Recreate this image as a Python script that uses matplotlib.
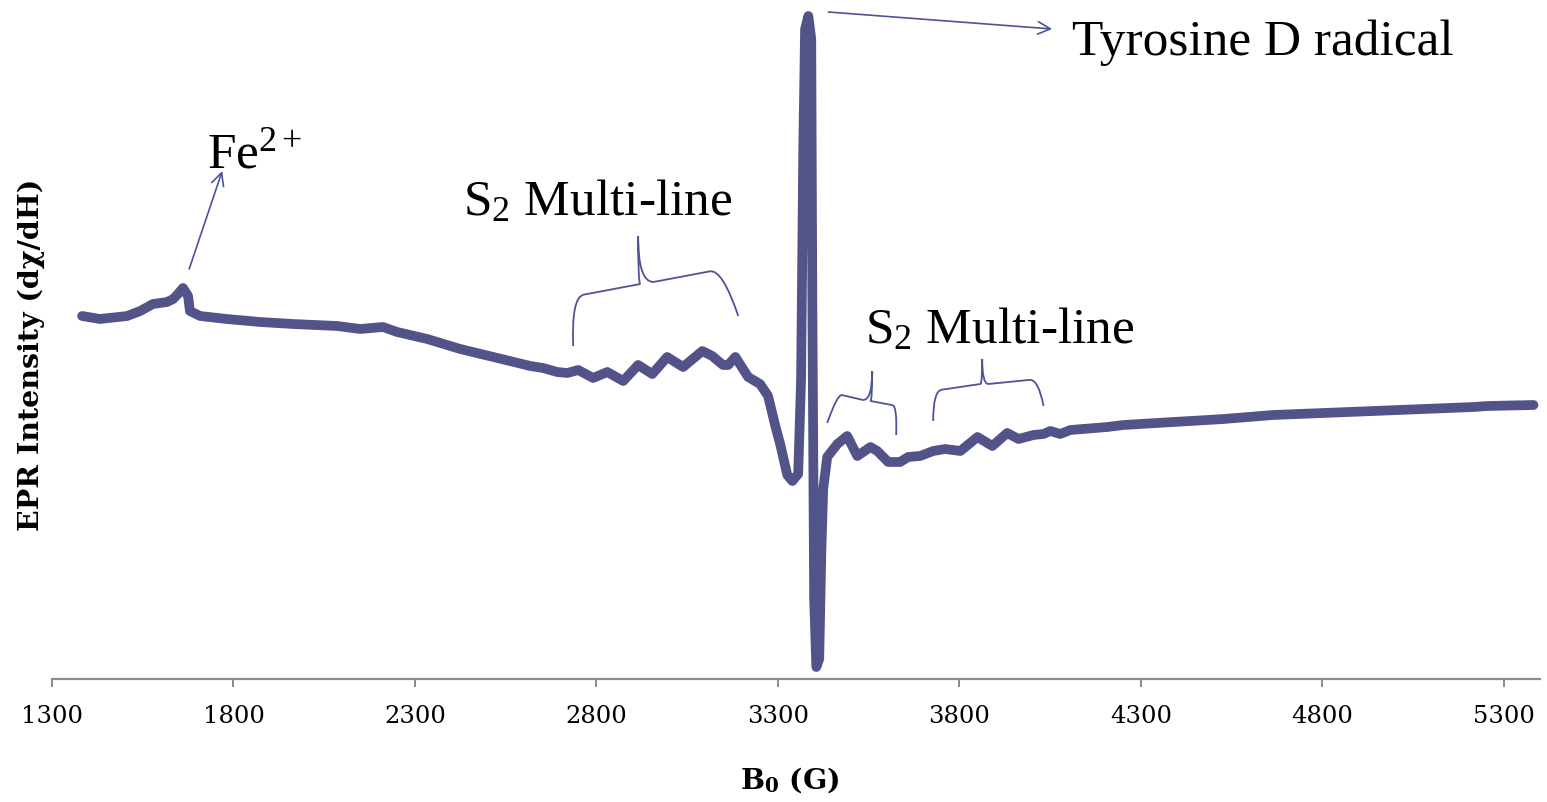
import matplotlib
matplotlib.use('Agg')
import matplotlib.pyplot as plt
from matplotlib.path import Path
from matplotlib.patches import PathPatch

# ---------------- data ----------------
field_G = [1383, 1432, 1507, 1543, 1578, 1617, 1634, 1647, 1661, 1675, 1680, 1708,
           1782, 1873, 1964, 2086, 2149, 2212, 2251, 2334, 2425, 2516, 2618, 2653,
           2692, 2720, 2750, 2791, 2830, 2874, 2915, 2954, 2995, 3039, 3092, 3119,
           3149, 3163, 3183, 3218, 3251, 3273, 3293, 3307, 3326, 3340, 3356, 3364,
           3370, 3375, 3384, 3392, 3395, 3400, 3406, 3414, 3420, 3425, 3436, 3464,
           3491, 3519, 3555, 3574, 3604, 3637, 3659, 3692, 3728, 3761, 3803, 3850,
           3891, 3932, 3963, 4004, 4032, 4051, 4078, 4106, 4208, 4252, 4390, 4437,
           4528, 4665, 4803, 4941, 5079, 5217, 5255, 5382]
intensity = [363, 360, 363, 368, 375, 377, 380, 385, 391, 383, 368, 363,
             360, 357, 355, 353, 350, 352, 347, 340, 330, 322, 313, 311,
             307, 306, 309, 301, 307, 298, 314, 305, 322, 312, 328, 323,
             314, 314, 322, 302, 295, 283, 253, 234, 204, 198, 205, 300,
             530, 650, 663, 640, 380, 80, 12, 20, 130, 190, 222, 235,
             243, 223, 232, 228, 217, 217, 222, 223, 228, 230, 228, 242,
             233, 246, 240, 244, 245, 248, 245, 249, 252, 254, 257, 258,
             260, 264, 266, 268, 270, 272, 273, 274]
x_ticks = [1300, 1800, 2300, 2800, 3300, 3800, 4300, 4800, 5300]
x_tick_labels = [str(t) for t in x_ticks]

x_label = r'B$_\mathbf{0}$ (G)'
y_label = 'EPR Intensity (dχ/dH)'

# annotation texts
fe_label = r'Fe$^{2+}$'
tyr_label = 'Tyrosine D radical'
s2_label = r'S$_2$ Multi-line'

LINE = '#525489'
ANN = '#4f5494'

plt.rcParams['mathtext.fontset'] = 'custom'
plt.rcParams['mathtext.rm'] = 'Liberation Serif'
plt.rcParams['mathtext.it'] = 'Liberation Serif:italic'
plt.rcParams['mathtext.bf'] = 'DejaVu Serif:bold'

fig = plt.figure(figsize=(15.47, 8.03), dpi=100)
ax = fig.add_axes([52 / 1547, 123 / 803, 1488 / 1547, 680 / 803])
ax.plot(field_G, intensity, color=LINE, lw=7.0, solid_joinstyle='round',
        solid_capstyle='round', clip_on=False, zorder=3)
ax.set_xlim(1300, 5400)
ax.set_ylim(0, 680)
ax.set_xticks(x_ticks)
ax.set_xticklabels(x_tick_labels, fontfamily='DejaVu Serif', fontsize=17.5)
ax.set_yticks([])
for s in ['left', 'right', 'top']:
    ax.spines[s].set_visible(False)
ax.spines['bottom'].set_color('#8a8a8a')
ax.spines['bottom'].set_linewidth(1.6)
ax.tick_params(axis='x', direction='out', length=6, width=1.4, color='#8a8a8a', pad=12)

ax.set_xlabel(x_label, fontfamily='DejaVu Serif', fontweight='bold', fontsize=20.5)
ax.xaxis.set_label_coords(0.496, -0.125)
ax.set_ylabel(y_label, fontfamily='DejaVu Serif', fontweight='bold', fontsize=20.5)
ax.yaxis.set_label_coords(-0.005, 0.478)

# ---------------- annotations ----------------
txt_kw = dict(fontfamily=['Liberation Serif', 'DejaVu Serif'], fontsize=37, color='black',
              ha='left', va='baseline')
ax.text(1727, 512, fe_label, **txt_kw)
ax.text(4111, 625, tyr_label, **txt_kw)
ax.text(2433, 465, s2_label, **txt_kw)
ax.text(3541, 337, s2_label, **txt_kw)

arrow_kw = dict(arrowstyle='->,head_length=0.9,head_width=0.45', color=ANN, lw=1.2,
                shrinkA=0, shrinkB=0)
ax.annotate('', xy=(1769, 508), xytext=(1678, 410), arrowprops=arrow_kw)
ax.annotate('', xy=(4056, 650), xytext=(3439, 667), arrowprops=arrow_kw)


def brace(footL, cornerL, centerL, tip, centerR, cornerR, footR):
    def lerp(a, b, t):
        return (a[0] + (b[0] - a[0]) * t, a[1] + (b[1] - a[1]) * t)
    verts = [footL, cornerL, lerp(cornerL, centerL, 0.18), centerL,
             (tip[0], centerL[1]), tip,
             (tip[0], centerR[1]), centerR,
             lerp(cornerR, centerR, 0.18), cornerR, footR]
    codes = [Path.MOVETO, Path.CURVE3, Path.CURVE3, Path.LINETO,
             Path.CURVE3, Path.CURVE3,
             Path.CURVE3, Path.CURVE3,
             Path.LINETO, Path.CURVE3, Path.CURVE3]
    ax.add_patch(PathPatch(Path(verts, codes), fill=False, edgecolor=ANN, lw=1.3,
                           clip_on=False, zorder=4))


brace((2736, 333), (2731, 382), (2921, 395), (2915, 443), (2957, 397), (3147, 410), (3191, 363))
brace((3436, 256), (3464, 285), (3535, 279), (3560, 308), (3555, 278), (3629, 273), (3626, 244))
brace((3728, 258), (3728, 288), (3858, 295), (3863, 320), (3880, 295), (4018, 300), (4032, 273))

fig.savefig('out.png', dpi=100)
